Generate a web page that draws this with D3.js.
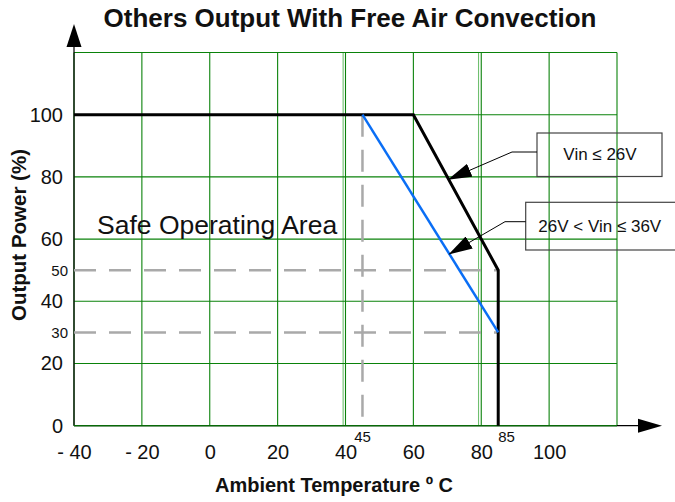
<!DOCTYPE html>
<html>
<head>
  <meta http-equiv="Content-Type" content="text/html; charset=UTF-8">
  <script src="https://d3js.org/d3.v7.min.js"></script>
  <style>
    body { margin:0; background:#fff; }
    text { font-family: "Liberation Sans", Arial, sans-serif; fill:#111; }
  </style>
</head>
<body>
<svg width="675" height="502"></svg>
<script>
    // chart values
    var gridX = [-40, -20, 0, 20, 40, 60, 80, 100, 120];
    var gridY = [0, 20, 40, 60, 80, 100, 120];
    var extraGridX = [39.3, 79.2];   // faint doubled lines seen in the original
    var xTicks = [-40, -20, 0, 20, 40, 60, 80, 100];
    var xTickLabels = ["- 40", "- 20", "0", "20", "40", "60", "80", "100"];
    var yTicks = [0, 20, 40, 60, 80, 100];
    var ySmallTicks = [50, 30];
    var markTemps = [45, 85];

    // derating curves: temperature (C) -> output power (%)
    var curveLow = [{t: -40, p: 100}, {t: 60, p: 100}, {t: 85, p: 50}, {t: 85, p: 0}];   // Vin <= 26V
    var curveHigh = [{t: 45, p: 100}, {t: 85, p: 30}];                                   // 26V < Vin <= 36V

    var legendLabels = ["Vin \u2264 26V", "26V < Vin \u2264 36V"];
    var pointerPowers = [79.2, 55.2];

    var svg = d3.select("svg");

    var x = d3.scaleLinear().domain([-40, 120]).range([74, 617]);
    var y = d3.scaleLinear().domain([0, 120]).range([425.7, 52.5]);

    // grid
    var grid = svg.append("g").attr("stroke", "#0a820a").attr("stroke-width", 1.1);
    grid.selectAll(".gx").data(gridX).enter().append("line")
        .attr("x1", function(d) { return x(d); }).attr("x2", function(d) { return x(d); })
        .attr("y1", y(0)).attr("y2", y(120));
    grid.selectAll(".gxe").data(extraGridX).enter().append("line")
        .attr("x1", function(d) { return x(d); }).attr("x2", function(d) { return x(d); })
        .attr("y1", y(0)).attr("y2", y(120)).attr("stroke", "#6fbf6f");
    grid.selectAll(".gy").data(gridY).enter().append("line")
        .attr("y1", function(d) { return y(d); }).attr("y2", function(d) { return y(d); })
        .attr("x1", x(-40)).attr("x2", x(120));

    // axis lines with arrow heads
    svg.append("line").attr("x1", x(-40)).attr("x2", 638).attr("y1", y(0)).attr("y2", y(0))
        .attr("stroke", "#000").attr("stroke-width", 1.2);
    svg.append("line").attr("x1", x(-40)).attr("x2", x(-40)).attr("y1", y(0)).attr("y2", 46)
        .attr("stroke", "#000").attr("stroke-width", 1.2);
    svg.append("path").attr("d", "M638," + (y(0) - 7) + " L662," + y(0) + " L638," + (y(0) + 7) + " Z");
    svg.append("path").attr("d", "M" + (x(-40) - 7.5) + ",47 L" + x(-40) + ",24 L" + (x(-40) + 7.5) + ",47 Z");
    // re-draw grid over axis inside plot (green on top)
    svg.append("line").attr("x1", x(-40)).attr("x2", x(120)).attr("y1", y(0)).attr("y2", y(0))
        .attr("stroke", "#0a820a").attr("stroke-width", 1);

    // y tick labels
    var yAxis = svg.append("g").attr("transform", "translate(" + x(-40) + ",0)")
        .call(d3.axisLeft(y).tickValues(yTicks).tickSize(0).tickPadding(11));
    yAxis.select(".domain").remove();
    yAxis.selectAll("text").style("font-size", "20px").style("font-family", "Liberation Sans, Arial, sans-serif").attr("fill", "#111");

    var ySmall = svg.append("g").attr("transform", "translate(" + x(-40) + ",0)")
        .call(d3.axisLeft(y).tickValues(ySmallTicks).tickSize(0).tickPadding(6));
    ySmall.select(".domain").remove();
    ySmall.selectAll("text").style("font-size", "15px").style("font-family", "Liberation Sans, Arial, sans-serif").attr("fill", "#111");

    // x tick labels
    var xAxis = svg.append("g").attr("transform", "translate(0," + y(0) + ")")
        .call(d3.axisBottom(x).tickValues(xTicks).tickSize(0).tickPadding(19)
            .tickFormat(function(d, i) { return xTickLabels[i]; }));
    xAxis.select(".domain").remove();
    xAxis.selectAll("text").style("font-size", "20px").style("font-family", "Liberation Sans, Arial, sans-serif").attr("fill", "#111");

    svg.selectAll(".mark").data(markTemps).enter().append("text")
        .attr("x", function(d) { return x(d); })
        .attr("y", 442)
        .attr("text-anchor", function(d, i) { return i == 0 ? "middle" : "start"; })
        .style("font-size", "15px")
        .text(function(d) { return d; });

    // gray dashed reference lines
    var dash = svg.append("g").attr("stroke", "#a9a9a9").attr("stroke-width", 2.5)
        .attr("stroke-dasharray", "22,13").attr("fill", "none");
    dash.selectAll(".hl").data(ySmallTicks).enter().append("line")
        .attr("x1", x(-40)).attr("x2", x(markTemps[1]))
        .attr("y1", function(d) { return y(d); }).attr("y2", function(d) { return y(d); });
    dash.append("line")
        .attr("x1", x(markTemps[0])).attr("x2", x(markTemps[0]))
        .attr("y1", y(100)).attr("y2", y(0));

    var line = d3.line().x(function(d) { return x(d.t); }).y(function(d) { return y(d.p); });

    svg.append("path").datum(curveLow).attr("d", line)
        .attr("fill", "none").attr("stroke", "#000").attr("stroke-width", 3).attr("stroke-linejoin", "miter");
    svg.append("path").datum(curveHigh).attr("d", line)
        .attr("fill", "none").attr("stroke", "#0a6ef5").attr("stroke-width", 2.5);

    // titles
    svg.append("text").attr("x", 350).attr("y", 27).attr("text-anchor", "middle")
        .style("font-size", "26px").style("font-weight", "bold")
        .text("Others Output With Free Air Convection");
    svg.append("text").attr("x", 334).attr("y", 492).attr("text-anchor", "middle")
        .style("font-size", "20px").style("font-weight", "bold")
        .text("Ambient Temperature \u00ba C");
    svg.append("text").attr("transform", "translate(26,235) rotate(-90)").attr("text-anchor", "middle")
        .style("font-size", "20.5px").style("font-weight", "bold")
        .text("Output Power (%)");

    svg.append("text").attr("x", 97).attr("y", 234).style("font-size", "26.5px")
        .text("Safe Operating Area");

    // legend boxes with pointers
    var defs = svg.append("defs");
    defs.append("marker").attr("id", "arr")
        .attr("markerUnits", "userSpaceOnUse")
        .attr("viewBox", "0 0 24 14").attr("markerWidth", 24).attr("markerHeight", 14)
        .attr("refX", 23).attr("refY", 7).attr("orient", "auto")
        .append("path").attr("d", "M0,0 L24,7 L0,14 Z").attr("fill", "#000");

    function tempAt(curve, p) {
        for (var i = 0; i < curve.length - 1; i++) {
            var a = curve[i], b = curve[i + 1];
            if ((p - a.p) * (p - b.p) <= 0 && a.p != b.p) {
                return a.t + (b.t - a.t) * (p - a.p) / (b.p - a.p);
            }
        }
        return curve[0].t;
    }

    var boxes = [
        {x: 537, y: 133, w: 125, h: 43.5, tx: 600, ty: 160, anchor: "middle", ly: 152, elbow: 512, curve: curveLow},
        {x: 525.7, y: 202.3, w: 170, h: 47.7, tx: 538.3, ty: 231.5, anchor: "start", ly: 221.7, elbow: 505, curve: curveHigh}
    ];

    boxes.forEach(function(b, i) {
        svg.append("rect").attr("x", b.x).attr("y", b.y).attr("width", b.w).attr("height", b.h)
            .attr("fill", "none").attr("stroke", "#444").attr("stroke-width", 1.2);
        svg.append("text").attr("x", b.tx).attr("y", b.ty).attr("text-anchor", b.anchor)
            .style("font-size", "17px").text(legendLabels[i]);
        var p = pointerPowers[i];
        var tx = x(tempAt(b.curve, p)), ty = y(p);
        svg.append("path")
            .attr("d", "M" + b.x + "," + b.ly + " H" + b.elbow + " L" + tx + "," + ty)
            .attr("fill", "none").attr("stroke", "#000").attr("stroke-width", 1)
            .attr("marker-end", "url(#arr)");
    });
</script>
</body>
</html>
